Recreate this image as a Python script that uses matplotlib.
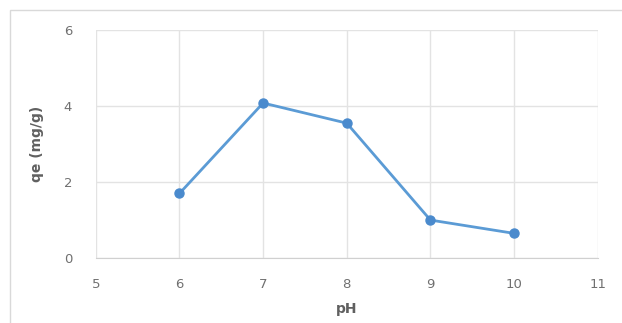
import matplotlib
matplotlib.use("Agg")
import matplotlib.pyplot as plt
from matplotlib.patches import Rectangle

ph = [6, 7, 8, 9, 10]
qe = [1.7, 4.08, 3.55, 1.0, 0.65]
xticks = [5, 6, 7, 8, 9, 10, 11]
yticks = [0, 2, 4, 6]

fig = plt.figure(figsize=(6.22, 3.23), dpi=100)
fig.patches.append(Rectangle((0.016, -0.01), 1.0, 0.98, transform=fig.transFigure,
                             fill=False, edgecolor='#d9d9d9', linewidth=1.0))
ax = fig.add_axes([0.154, 0.201, 0.807, 0.706])
ax.plot(ph, qe, color='#5b9bd5', linewidth=2.0, marker='o', markersize=6.5,
        markerfacecolor='#4a8acd', markeredgecolor='#4a8acd', zorder=3)
ax.set_xlim(5, 11)
ax.set_ylim(0, 6)
ax.set_xticks(xticks)
ax.set_yticks(yticks)
ax.grid(True, color='#e3e3e3', linewidth=1.0)
ax.set_axisbelow(True)
for s in ['top', 'right', 'left']:
    ax.spines[s].set_visible(False)
ax.spines['bottom'].set_color('#d0d0d0')
ax.tick_params(length=0, labelsize=9.5, labelcolor='#707070')
ax.tick_params(axis='x', pad=14)
ax.tick_params(axis='y', pad=17)
ax.set_xlabel('pH', fontsize=10, fontweight='bold', color='#606060', labelpad=8)
ax.set_ylabel('qe (mg/g)', fontsize=10, fontweight='bold', color='#606060', labelpad=14)
fig.savefig('out.png', dpi=100)
